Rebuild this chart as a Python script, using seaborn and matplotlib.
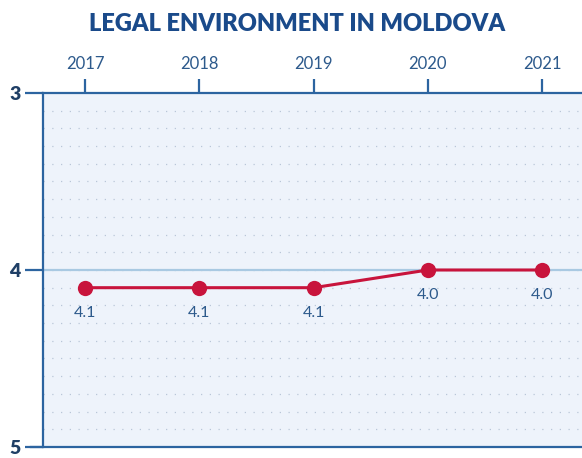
import matplotlib.pyplot as plt
import seaborn as sns
import numpy as np
import pandas as pd

years = [2017, 2018, 2019, 2020, 2021]
scores = [4.1, 4.1, 4.1, 4.0, 4.0]
labels = ["4.1", "4.1", "4.1", "4.0", "4.0"]

df = pd.DataFrame({"year": years, "score": scores})

sns.set_style("white")
plt.rcParams["font.family"] = ["Lato", "DejaVu Sans"]

axis_blue = "#2c64a0"
text_blue = "#2d5a8c"
red = "#c8143c"

fig = plt.figure(figsize=(5.82, 4.58), dpi=100)
ax = fig.add_axes([0.0739, 0.024, 0.9261, 0.773])
ax.set_facecolor("#eef3fb")

# dotted grid
for y in np.arange(3.1, 5.0, 0.1):
    ax.axhline(y, color="#b9c6d8", lw=0.9, ls=(0, (1, 6)), zorder=0)
ax.axhline(4, color="#a9c9e2", lw=1.6, zorder=1)

sns.lineplot(data=df, x="year", y="score", ax=ax, color=red, lw=2.2,
             marker="o", markersize=11, markeredgewidth=0, zorder=3)

for x, y, t in zip(years, scores, labels):
    ax.annotate(t, (x, y), xytext=(0, -13), textcoords="offset points",
                ha="center", va="top", fontsize=11.5, color=text_blue)

ax.set_xlim(2016.63, 2021.35)
ax.set_ylim(5, 3)
ax.set_yticks([3, 4, 5])
ax.set_xticks(years)
ax.xaxis.tick_top()
ax.set_xlabel("")
ax.set_ylabel("")

for s in ["bottom", "right"]:
    ax.spines[s].set_visible(False)
for s in ["top", "left"]:
    ax.spines[s].set_color(axis_blue)
    ax.spines[s].set_linewidth(1.6)
ax.axhline(5, color=axis_blue, lw=1.6, clip_on=False, zorder=4)
ax.plot([-0.025, 0], [5, 5], transform=ax.get_yaxis_transform(), color=axis_blue,
        lw=1.6, clip_on=False)

ax.tick_params(axis="x", top=True, length=10, width=1.6, color=axis_blue,
               labelsize=12, labelcolor=text_blue, pad=5)
ax.tick_params(axis="y", left=True, length=13, width=1.6, color=axis_blue,
               labelsize=14, labelcolor="#1f3f66", pad=3)
for t in ax.get_yticklabels():
    t.set_fontweight("heavy")

fig.text(0.51, 0.948, "LEGAL ENVIRONMENT IN MOLDOVA", ha="center", va="center",
         fontsize=17, fontweight="heavy", color="#1a4a8a")

fig.savefig("out.png", dpi=100)
